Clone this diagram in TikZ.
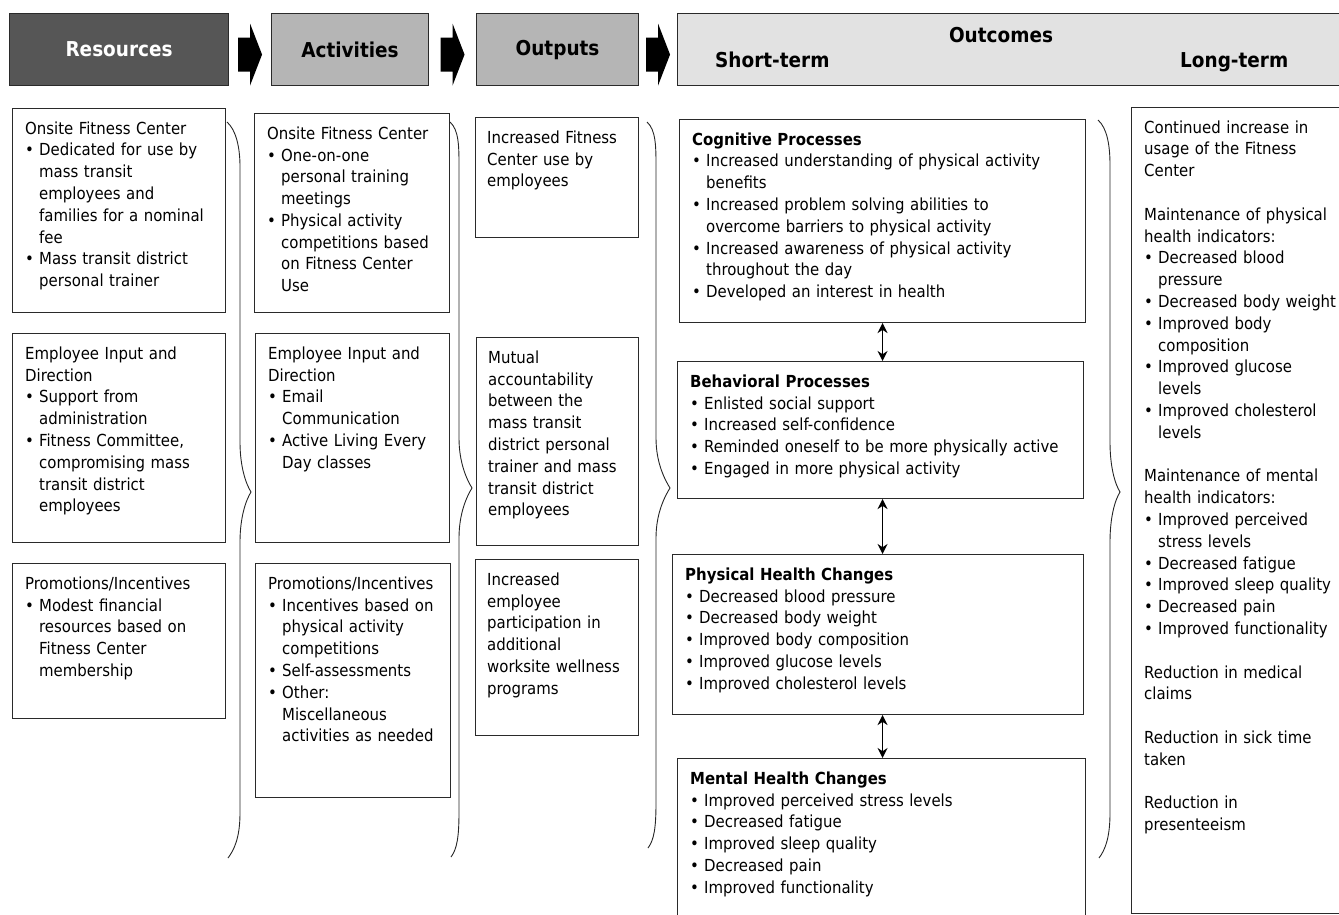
\documentclass[tikz,border=0pt]{standalone}
\usepackage{fontspec}
\setmainfont{DejaVu Sans Condensed}
\usetikzlibrary{calc,arrows,arrows.meta}

\definecolor{resfill}{HTML}{565656}
\definecolor{midfill}{HTML}{B5B5B5}
\definecolor{outfill}{HTML}{E2E2E2}
\definecolor{boxline}{HTML}{2A2A2A}

\setlength{\parindent}{0pt}
\newcommand{\topln}{\rule{0pt}{26pt}}
\newcommand{\bi}{\par\hangindent=14pt\hangafter=1\noindent\makebox[14pt][l]{\textbullet}}
\newcommand{\nl}{\newline}
\newcommand{\gap}{\par\vspace{21.8pt}}

\begin{document}
\begin{tikzpicture}[x=1pt,y=-1pt,
  hdr/.style={draw=boxline,line width=1.1pt,anchor=north west,minimum height=72pt,
    font=\fontsize{20.5}{24}\selectfont\bfseries},
  hdrtxt/.style={inner sep=0pt,font=\fontsize{20.5}{24}\selectfont\bfseries},
  cell/.style={draw=boxline,line width=1.1pt,anchor=north west,inner sep=0pt},
  txt/.style={anchor=north west,inner sep=0pt,text width=430pt,
    font=\fontsize{16.6}{21.8}\selectfont},
  brc/.style={line width=0.9pt,black!85},
  dbl/.style={line width=1.6pt,{Stealth[length=10pt,width=10pt]}-{Stealth[length=10pt,width=10pt]}}]
\useasboundingbox (0,0) rectangle (1339,915);

% header row
\node[hdr,fill=resfill,text=white,minimum width=219pt] (res) at (9,13) {Resources};
\node[hdr,fill=midfill,minimum width=157pt] (act) at (271,13) {Activities};
\node[hdr,fill=midfill,minimum width=162pt] (out) at (476,13) {Outputs};
\node[hdr,fill=outfill,minimum width=680pt] (outc) at (677,13) {};
\node[hdrtxt,anchor=base] (outcttl) at (1001,43) {Outcomes};
\node[hdrtxt,anchor=base west] (shortt) at (715,68) {Short-term};
\node[hdrtxt,anchor=base west] (longt) at (1180,68) {Long-term};
\foreach \a/\b in {res/act,act/out,out/outc}
  \fill ($(\a.east)!.5!(\b.west)+(0,5)$) ++(-12,-17) -- ++(12,0) -- ++(0,-14)
    -- ++(12,31) -- ++(-12,31) -- ++(0,-14) -- ++(-12,0) -- cycle;

% resources
\node[cell,minimum width=213pt,minimum height=204pt] (r1) at (12,108) {};
\node[cell,minimum width=213pt,minimum height=209pt] (r2) at (12,333) {};
\node[cell,minimum width=213pt,minimum height=155pt] (r3) at (12,563) {};
\node[txt] (r1t) at ([xshift=13pt]r1.north west) {\topln Onsite Fitness Center
  \bi Dedicated for use by\nl mass transit\nl employees and\nl families for a nominal\nl fee
  \bi Mass transit district\nl personal trainer\par};
\node[txt] (r2t) at ([xshift=13pt]r2.north west) {\topln Employee Input and\nl Direction
  \bi Support from\nl administration
  \bi Fitness Committee,\nl compromising mass\nl transit district\nl employees\par};
\node[txt] (r3t) at ([xshift=13pt]r3.north west) {\topln Promotions/Incentives
  \bi Modest financial\nl resources based on\nl Fitness Center\nl membership\par};

% activities
\node[cell,minimum width=195pt,minimum height=199pt] (a1) at (254,113) {};
\node[cell,minimum width=194pt,minimum height=209pt] (a2) at (255,333) {};
\node[cell,minimum width=195pt,minimum height=234pt] (a3) at (255,563) {};
\node[txt] (a1t) at ([xshift=13pt]a1.north west) {\topln Onsite Fitness Center
  \bi One-on-one\nl personal training\nl meetings
  \bi Physical activity\nl competitions based\nl on Fitness Center\nl Use\par};
\node[txt] (a2t) at ([xshift=13pt]a2.north west) {\topln Employee Input and\nl Direction
  \bi Email\nl Communication
  \bi Active Living Every\nl Day classes\par};
\node[txt] (a3t) at ([xshift=13pt]a3.north west) {\topln Promotions/Incentives
  \bi Incentives based on\nl physical activity\nl competitions
  \bi Self-assessments
  \bi Other:\nl Miscellaneous\nl activities as needed\par};

% outputs
\node[cell,minimum width=163pt,minimum height=120pt] (o1) at (475,117) {};
\node[cell,minimum width=162pt,minimum height=208pt] (o2) at (476,337) {};
\node[cell,minimum width=163pt,minimum height=176pt] (o3) at (475,559) {};
\node[txt] (o1t) at ([xshift=12pt]o1.north west) {\topln Increased Fitness\nl Center use by\nl employees};
\node[txt] (o2t) at ([xshift=12pt]o2.north west) {\topln Mutual\nl accountability\nl between the\nl mass transit\nl
  district personal\nl trainer and mass\nl transit district\nl employees};
\node[txt] (o3t) at ([xshift=12pt]o3.north west) {\topln Increased\nl employee\nl participation in\nl additional\nl
  worksite wellness\nl programs};

% short-term outcomes
\node[cell,minimum width=406pt,minimum height=203pt] (cog) at (679,119) {};
\node[cell,minimum width=406pt,minimum height=137pt] (beh) at (677,361) {};
\node[cell,minimum width=411pt,minimum height=160pt] (phy) at (672,554) {};
\node[cell,minimum width=408pt,minimum height=170pt] (men) at (677,758) {};
\node[txt] (cogt) at ([xshift=13pt]cog.north west) {\topln\textbf{Cognitive Processes}
  \bi Increased understanding of physical activity\nl benefits
  \bi Increased problem solving abilities to\nl overcome barriers to physical activity
  \bi Increased awareness of physical activity\nl throughout the day
  \bi Developed an interest in health\par};
\node[txt] (beht) at ([xshift=13pt]beh.north west) {\topln\textbf{Behavioral Processes}
  \bi Enlisted social support
  \bi Increased self-confidence
  \bi Reminded oneself to be more physically active
  \bi Engaged in more physical activity\par};
\node[txt] (phyt) at ([xshift=13pt]phy.north west) {\topln\textbf{Physical Health Changes}
  \bi Decreased blood pressure
  \bi Decreased body weight
  \bi Improved body composition
  \bi Improved glucose levels
  \bi Improved cholesterol levels\par};
\node[txt] (ment) at ([xshift=13pt]men.north west) {\topln\textbf{Mental Health Changes}
  \bi Improved perceived stress levels
  \bi Decreased fatigue
  \bi Improved sleep quality
  \bi Decreased pain
  \bi Improved functionality\par};
\draw[dbl] (cog.south) -- (cog.south |- beh.north);
\draw[dbl] (cog.south |- beh.south) -- (cog.south |- phy.north);
\draw[dbl] (cog.south |- phy.south) -- (cog.south |- men.north);

% long-term outcomes
\node[cell,minimum width=215pt,minimum height=806pt] (lng) at (1131,107) {};
\node[txt] (lngt) at ([xshift=13pt]lng.north west) {\topln Continued increase in\nl usage of the Fitness\nl Center
  \gap Maintenance of physical\nl health indicators:
  \bi Decreased blood\nl pressure
  \bi Decreased body weight
  \bi Improved body\nl composition
  \bi Improved glucose\nl levels
  \bi Improved cholesterol\nl levels
  \gap Maintenance of mental\nl health indicators:
  \bi Improved perceived\nl stress levels
  \bi Decreased fatigue
  \bi Improved sleep quality
  \bi Decreased pain
  \bi Improved functionality
  \gap Reduction in medical\nl claims
  \gap Reduction in sick time\nl taken
  \gap Reduction in\nl presenteeism};

% braces
\foreach \xa/\xb/\xc/\ya/\yb/\yc in {227/240/251/122/492/858,450/459/472/122/488/857,
    647/656/670/122/488/848,1098/1110/1120/120/492/858}
  \draw[brc] (\xa,\ya) .. controls (\xa+9,\ya+8) and (\xb,\ya+25) .. (\xb,\ya+45)
    -- (\xb,\yb-50) .. controls (\xb,\yb-25) and (\xc-5,\yb-8) .. (\xc,\yb)
    .. controls (\xc-5,\yb+8) and (\xb,\yb+25) .. (\xb,\yb+50)
    -- (\xb,\yc-45) .. controls (\xb,\yc-20) and (\xa+7,\yc-8) .. (\xa+1,\yc);
\end{tikzpicture}
\end{document}
